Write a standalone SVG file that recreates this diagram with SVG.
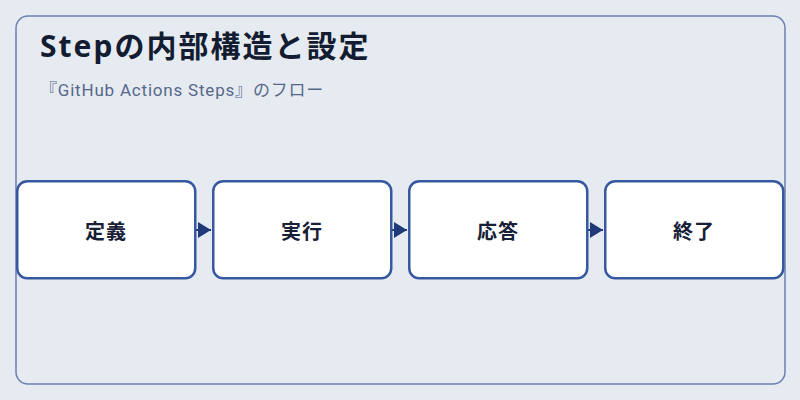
<svg xmlns="http://www.w3.org/2000/svg" width="800" height="400" viewBox="0 0 800 400">
<style>
.node rect{fill:#ffffff;stroke:#3558a0;stroke-width:2.5}
.node text{font-family:"Noto Sans","Noto Sans CJK JP",sans-serif;font-size:20px;font-weight:bold;letter-spacing:1px;fill:#172036;text-anchor:middle;dominant-baseline:central}
.conn{stroke:#1f3a78;stroke-width:2;fill:none}
</style>
<defs>
<marker id="arr" viewBox="0 0 10 10" refX="10" refY="5" markerWidth="13" markerHeight="16" markerUnits="userSpaceOnUse" orient="auto" preserveAspectRatio="none">
<path d="M0,0 L10,5 L0,10 Z" fill="#1f3a78"/>
</marker>
</defs>
<rect width="800" height="400" fill="#e6ebf1"/>
<rect x="16" y="16" width="769" height="368" rx="12" fill="#e6ebf1" stroke="#6a80b0" stroke-width="1.5"/>
<text x="40" y="57" font-family="Noto Sans,Noto Sans CJK JP,sans-serif" font-size="30" font-weight="bold" letter-spacing="2" fill="#131c30">Stepの内部構造と設定</text>
<text x="40" y="96" font-family="Roboto,Noto Sans CJK JP,sans-serif" font-size="17" letter-spacing="0.8" fill="#56678a">『GitHub Actions Steps』のフロー</text>
<g id="connectors">
<path class="conn" d="M196,230 L211,230" marker-end="url(#arr)"/>
<path class="conn" d="M392,230 L407,230" marker-end="url(#arr)"/>
<path class="conn" d="M588,230 L603,230" marker-end="url(#arr)"/>
</g>
<g id="node1" class="node"><rect x="17.25" y="181.25" width="178" height="97" rx="10"/><text x="106" y="231">定義</text></g>
<g id="node2" class="node"><rect x="213.25" y="181.25" width="178" height="97" rx="10"/><text x="302" y="231">実行</text></g>
<g id="node3" class="node"><rect x="409.25" y="181.25" width="178" height="97" rx="10"/><text x="498" y="231">応答</text></g>
<g id="node4" class="node"><rect x="605.25" y="181.25" width="178" height="97" rx="10"/><text x="694" y="231">終了</text></g>
</svg>
